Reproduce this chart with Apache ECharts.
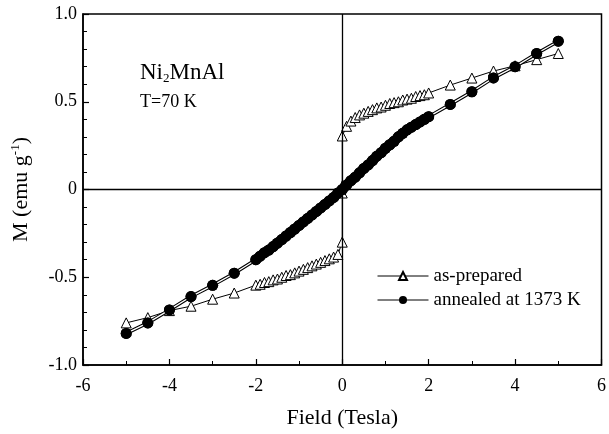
<!DOCTYPE html>
<html>
<head>
<meta charset="utf-8">
<script src="https://cdn.jsdelivr.net/npm/echarts@6/dist/echarts.min.js"></script>
<style>
  html, body { margin: 0; padding: 0; background: #fff; }
  #chart { width: 609px; height: 434px; }
</style>
</head>
<body>
<div id="chart"></div>
<script>
// as-prepared (open triangles), field in Tesla
var prepX = [-5, -4.5, -4, -3.5, -3, -2.5,
  -2.0, -1.9, -1.8, -1.7, -1.6, -1.5, -1.4, -1.3, -1.2, -1.1,
  -1.0, -0.9, -0.8, -0.7, -0.6, -0.5, -0.4, -0.3, -0.2, -0.1,
  0, 0, 0, 0,
  0.1, 0.2, 0.3, 0.4, 0.5, 0.6, 0.7, 0.8, 0.9, 1.0,
  1.1, 1.2, 1.3, 1.4, 1.5, 1.6, 1.7, 1.8, 1.9, 2.0,
  2.5, 3, 3.5, 4, 4.5, 5];
var prepM = [-0.76, -0.73, -0.69, -0.665, -0.625, -0.59,
  -0.545, -0.54, -0.53, -0.525, -0.515, -0.51, -0.50, -0.49, -0.485, -0.475,
  -0.465, -0.455, -0.445, -0.435, -0.425, -0.415, -0.405, -0.395, -0.385, -0.37,
  -0.30, -0.02, 0.02, 0.305,
  0.36, 0.39, 0.41, 0.425, 0.435, 0.445, 0.455, 0.465, 0.47, 0.48,
  0.49, 0.495, 0.50, 0.51, 0.515, 0.52, 0.53, 0.535, 0.54, 0.55,
  0.595, 0.635, 0.675, 0.705, 0.74, 0.775];

// annealed at 1373 K (filled circles)
var annX = [-5, -4.5, -4, -3.5, -3, -2.5,
  -2.0, -1.9, -1.8, -1.7, -1.6, -1.5, -1.4, -1.3, -1.2, -1.1,
  -1.0, -0.9, -0.8, -0.7, -0.6, -0.5, -0.4, -0.3, -0.2, -0.1, 0,
  0.1, 0.2, 0.3, 0.4, 0.5, 0.6, 0.7, 0.8, 0.9, 1.0,
  1.1, 1.2, 1.3, 1.4, 1.5, 1.6, 1.7, 1.8, 1.9, 2.0,
  2.5, 3, 3.5, 4, 4.5, 5];
var annM = [-0.82, -0.76, -0.686, -0.61, -0.546, -0.477,
  -0.40, -0.38, -0.36, -0.345, -0.325, -0.305, -0.285, -0.265, -0.245, -0.225,
  -0.205, -0.185, -0.165, -0.145, -0.125, -0.105, -0.085, -0.065, -0.045, -0.02, 0.0,
  0.025, 0.05, 0.07, 0.095, 0.12, 0.14, 0.165, 0.19, 0.21, 0.235,
  0.255, 0.275, 0.30, 0.32, 0.34, 0.355, 0.37, 0.385, 0.40, 0.415,
  0.485, 0.557, 0.636, 0.70, 0.775, 0.845];

var serif = '"Liberation Serif", "Times New Roman", serif';

function pairs(xs, ys) {
  var out = [];
  for (var i = 0; i < xs.length; i++) out.push([xs[i], ys[i]]);
  return out;
}

// keep only the points with |x| >= lim (outer) or |x| <= lim (inner), gaps elsewhere
function part(xs, ys, lim, outer) {
  var out = [];
  for (var i = 0; i < xs.length; i++) {
    var a = Math.abs(xs[i]);
    var keep = outer ? a >= lim : a <= lim;
    out.push(keep ? [xs[i], ys[i]] : '-');
  }
  return out;
}

var chart = echarts.init(document.getElementById('chart'), null, { renderer: 'canvas' });

chart.setOption({
  animation: false,
  backgroundColor: '#fff',
  textStyle: { fontFamily: serif, color: '#000' },
  grid: {
    left: 83, right: 1.5, top: 14, bottom: 68,
    show: true, borderColor: '#000', borderWidth: 1.5
  },
  legend: {
    orient: 'vertical',
    left: 372, top: 261,
    itemWidth: 51, itemHeight: 10, itemGap: 4,
    textStyle: { fontFamily: serif, fontSize: 19, color: '#000', lineHeight: 20 },
    data: [
      { name: 'as-prepared', lineStyle: { width: 1, color: '#000' } },
      { name: 'annealed at 1373 K', lineStyle: { width: 1, color: '#000' } }
    ]
  },
  xAxis: {
    type: 'value', min: -6, max: 6, interval: 2,
    name: 'Field (Tesla)', nameLocation: 'middle', nameGap: 42,
    nameTextStyle: { fontFamily: serif, fontSize: 22, color: '#000' },
    axisLine: { onZero: false, lineStyle: { color: '#000', width: 1.5 } },
    axisTick: { inside: true, length: 6, lineStyle: { color: '#000', width: 1.2 } },
    minorTick: { show: true, splitNumber: 2, length: 4, lineStyle: { color: '#000', width: 1 } },
    splitLine: { show: false },
    axisLabel: { fontFamily: serif, fontSize: 18, color: '#000', margin: 12, showMaxLabel: true }
  },
  yAxis: {
    type: 'value', min: -1, max: 1, interval: 0.5,
    name: '{a|M (emu g}{s|-1}{a|)}', nameLocation: 'middle', nameGap: 50, nameRotate: 90,
    nameTextStyle: {
      rich: {
        a: { fontFamily: serif, fontSize: 22, color: '#000', lineHeight: 24 },
        s: { fontFamily: serif, fontSize: 13, color: '#000', lineHeight: 13, verticalAlign: 'top' }
      }
    },
    axisLine: { onZero: false, lineStyle: { color: '#000', width: 1.5 } },
    axisTick: { inside: true, length: 6, lineStyle: { color: '#000', width: 1.2 } },
    minorTick: { show: true, splitNumber: 5, length: 4, lineStyle: { color: '#000', width: 1 } },
    splitLine: { show: false },
    axisLabel: {
      fontFamily: serif, fontSize: 18, color: '#000', margin: 6,
      formatter: function (v) { return v === 0 ? '0' : v.toFixed(1); }
    }
  },
  graphic: [
    {
      type: 'text', left: 140, top: 61,
      style: {
        text: '{a|Ni}{b|2}{a|MnAl}',
        rich: {
          a: { fontFamily: serif, fontSize: 23, fill: '#000', lineHeight: 25 },
          b: { fontFamily: serif, fontSize: 13, fill: '#000', lineHeight: 13, verticalAlign: 'bottom' }
        }
      }
    },
    {
      type: 'text', left: 140, top: 93,
      style: { text: 'T=70 K', fontFamily: serif, fontSize: 18, fill: '#000' }
    }
  ],
  series: [
    {
      name: 'as-prepared',
      type: 'line',
      data: pairs(prepX, prepM),
      symbol: 'triangle', symbolSize: 10,
      lineStyle: { color: '#000', width: 1 },
      itemStyle: { color: '#fff', borderColor: '#000', borderWidth: 1 },
      z: 3,
      markLine: {
        silent: true, symbol: 'none', label: { show: false },
        lineStyle: { color: '#000', width: 1.3, type: 'solid' },
        data: [{ xAxis: 0 }, { yAxis: 0 }]
      }
    },
    {
      name: 'annealed at 1373 K',
      type: 'line',
      data: pairs(annX, annM),
      symbol: 'circle', symbolSize: 11,
      lineStyle: { color: '#000', width: 3.5 },
      itemStyle: { color: '#000', borderColor: '#000', borderWidth: 0 },
      z: 4
    },
    {
      // dense points merge into one thick band
      name: 'annealed-band',
      type: 'line',
      data: part(annX, annM, 2, false),
      showSymbol: false,
      connectNulls: false,
      lineStyle: { color: '#000', width: 10, cap: 'round', join: 'round' },
      z: 4
    },
    {
      // hollow look of the line between the sparse points
      name: 'annealed-inner',
      type: 'line',
      data: part(annX, annM, 2, true),
      showSymbol: false,
      connectNulls: false,
      lineStyle: { color: '#fff', width: 1.3 },
      z: 5
    },
    {
      name: 'annealed-dots',
      type: 'scatter',
      data: pairs(annX, annM),
      symbol: 'circle', symbolSize: 11,
      itemStyle: { color: '#000', borderColor: '#000', borderWidth: 0, opacity: 1 },
      z: 6
    }
  ]
});
</script>
</body>
</html>
